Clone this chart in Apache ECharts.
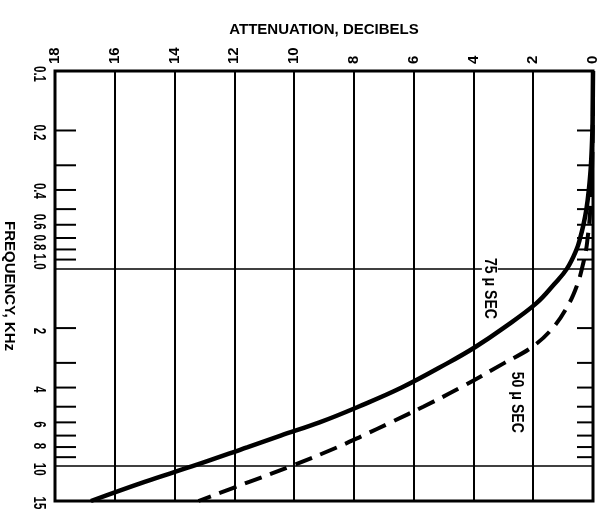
<!DOCTYPE html>
<html>
<head>
<meta charset="utf-8">
<script src="https://cdn.jsdelivr.net/npm/echarts@6/dist/echarts.min.js"></script>
<style>
  html, body { margin: 0; padding: 0; background: #fff; }
  #chart { width: 614px; height: 524px; }
</style>
</head>
<body>
<div id="chart"></div>
<script>
// Frequencies (kHz) at which both de-emphasis curves are tabulated
const frequencies = [0.1, 0.15, 0.2, 0.3, 0.4, 0.5, 0.6, 0.7, 0.8, 1.0, 1.2, 1.5, 2, 2.5, 3, 4, 5, 6, 7, 8, 10, 12, 15];
// Attenuation (dB) of the 75 µs network
const atten75 = [0.0, 0.01, 0.02, 0.07, 0.14, 0.22, 0.32, 0.43, 0.55, 0.87, 1.3, 1.9, 3.0, 3.95, 4.85, 6.4, 7.85, 9.15, 10.45, 11.55, 13.4, 15.0, 16.8];
// Attenuation (dB) of the 50 µs network
const atten50 = [0.0, 0.0, 0.01, 0.03, 0.06, 0.09, 0.13, 0.18, 0.23, 0.37, 0.52, 0.8, 1.35, 2.05, 2.96, 4.43, 5.68, 6.76, 7.7, 8.54, 10.1, 11.5, 13.2];

// Labelled frequencies on the vertical scale
const freqTickValues = [0.1, 0.2, 0.4, 0.6, 0.8, 1.0, 2, 4, 6, 8, 10, 15];
const freqTickLabels = ['0.1', '0.2', '0.4', '0.6', '0.8', '1.0', '2', '4', '6', '8', '10', '15'];
// Intermediate marks inside each log cycle
const freqMinorTicks = [0.2, 0.3, 0.4, 0.5, 0.6, 0.7, 0.8, 0.9, 2, 3, 4, 5, 6, 7, 8, 9];

// Curve captions and the point [dB, kHz] each one is centred on
const curveNames = ['75 \u03bc SEC', '50 \u03bc SEC'];
const curveLabelAt = [[3.45, 1.26], [2.55, 4.75]];

// Pixel nudges so the crowded frequency labels do not collide
const freqLabelNudge = [3, 2, 1, -3, -7, -7, 3, 2, 2, -1, 3, 2];

const FONT = "'Liberation Sans', Arial, sans-serif";

const chart = echarts.init(document.getElementById('chart'), null, { renderer: 'canvas' });

chart.setOption({
  backgroundColor: '#fff',
  animation: false,
  grid: {
    left: 55, right: 21, top: 71, bottom: 23,
    containLabel: false,
    outerBoundsMode: 'none',
    show: true, borderColor: '#000', borderWidth: 3, backgroundColor: 'transparent'
  },
  xAxis: {
    type: 'value',
    position: 'top',
    inverse: true,
    min: 0, max: 18, interval: 2,
    name: 'ATTENUATION, DECIBELS',
    nameLocation: 'middle',
    nameGap: 34,
    nameTextStyle: { fontFamily: FONT, fontWeight: 'bold', fontSize: 15, color: '#000' },
    axisLine: { show: false },
    axisTick: { show: false },
    axisLabel: {
      rotate: -90, margin: 7,
      fontFamily: FONT, fontWeight: 'bold', fontSize: 15, color: '#000'
    },
    splitLine: { show: true, lineStyle: { color: '#000', width: 2 } }
  },
  yAxis: {
    type: 'log',
    logBase: 10,
    inverse: true,
    min: 0.1, max: 15,
    name: 'FREQUENCY, KHz',
    nameLocation: 'middle',
    nameRotate: -90,
    nameGap: 38,
    nameTextStyle: { fontFamily: FONT, fontWeight: 'bold', fontSize: 15, color: '#000' },
    axisLine: { show: false },
    axisTick: { show: false },
    axisLabel: { show: false },
    splitLine: { show: true, lineStyle: { color: '#000', width: 1.5 } }
  },
  series: [
    {
      name: '75 us',
      type: 'line',
      data: frequencies.map((f, i) => [atten75[i], f]),
      smooth: 0.4,
      showSymbol: false,
      lineStyle: { color: '#000', width: 4.5 },
      z: 5
    },
    {
      name: '50 us',
      type: 'line',
      data: frequencies.map((f, i) => [atten50[i], f]),
      smooth: 0.4,
      showSymbol: false,
      lineStyle: { color: '#000', width: 4, type: [18, 9] },
      z: 5
    },
    {
      // log-cycle tick marks on both vertical edges
      type: 'custom',
      data: freqMinorTicks.map(f => [18, f]),
      renderItem: function (params, api) {
        const f = api.value(1);
        const l = api.coord([18, f]);
        const r = api.coord([0, f]);
        return {
          type: 'group',
          children: [
            { type: 'line', shape: { x1: l[0], y1: l[1], x2: l[0] + 21, y2: l[1] },
              style: { stroke: '#000', lineWidth: 2 } },
            { type: 'line', shape: { x1: r[0] - 16, y1: r[1], x2: r[0], y2: r[1] },
              style: { stroke: '#000', lineWidth: 2 } }
          ]
        };
      },
      z: 4,
      silent: true
    },
    {
      // frequency scale labels
      type: 'custom',
      data: freqTickValues.map(f => [18, f]),
      renderItem: function (params, api) {
        const p = api.coord([18, api.value(1)]);
        return {
          type: 'text',
          x: p[0] - 16,
          y: p[1] + freqLabelNudge[params.dataIndex],
          rotation: -Math.PI / 2,
          scaleX: 0.68,
          style: {
            text: freqTickLabels[params.dataIndex],
            fontFamily: FONT, fontWeight: 'bold', fontSize: 17, fill: '#000',
            align: 'center', verticalAlign: 'middle'
          }
        };
      },
      silent: true
    },
    {
      // curve captions
      type: 'custom',
      data: curveLabelAt,
      renderItem: function (params, api) {
        const p = api.coord([api.value(0), api.value(1)]);
        return {
          type: 'text',
          x: p[0],
          y: p[1],
          rotation: -Math.PI / 2,
          scaleX: 0.88,
          style: {
            text: curveNames[params.dataIndex],
            fontFamily: FONT, fontWeight: 'bold', fontSize: 16, fill: '#000',
            backgroundColor: '#fff', padding: [0, 2],
            align: 'center', verticalAlign: 'middle'
          }
        };
      },
      z: 6,
      silent: true
    }
  ]
});
</script>
</body>
</html>
